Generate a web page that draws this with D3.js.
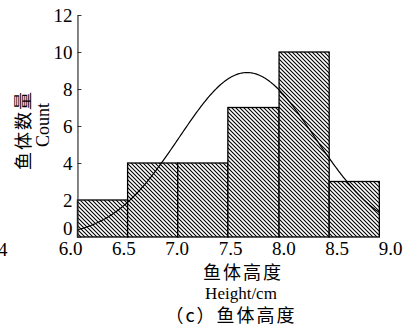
<!DOCTYPE html>
<html>
<head>
<meta charset="utf-8">
<script src="https://cdn.jsdelivr.net/npm/d3@7"></script>
<style>
    body { margin: 0; background: #fff; }
    svg { display: block; }
    text { font-family: "Liberation Serif", "Noto Sans CJK SC", serif; fill: #000; }
    .cjk { font-family: "Noto Sans CJK SC", sans-serif; }
</style>
</head>
<body>
<svg id="chart" width="411" height="330"></svg>
<script>
// histogram bins (fish height, cm) and counts
var binEdges = [6.07, 6.54, 7.01, 7.48, 7.96, 8.43, 8.90];
var counts = [2, 4, 4, 7, 10, 3];
var xTicks = [6.0, 6.5, 7.0, 7.5, 8.0, 8.5, 9.0];
var yTicks = [0, 2, 4, 6, 8, 10, 12];
// normal fit
var fitMean = 7.66;
var fitSd = 0.635;

var serif = '"Liberation Serif", serif';
var svg = d3.select('#chart');

var x = d3.scaleLinear().domain([6, 9]).range([70, 390]);
var y = d3.scaleLinear().domain([0, 12]).range([237, 15]);

// hatch pattern
var pat = svg.append('defs').append('pattern')
    .attr('id', 'hatch')
    .attr('width', 4)
    .attr('height', 4)
    .attr('patternUnits', 'userSpaceOnUse');
pat.append('rect').attr('width', 4).attr('height', 4).attr('fill', '#fff');
pat.append('path')
    .attr('d', 'M-1,-1 L5,5 M-1,3 L1,5 M3,-1 L5,1')
    .attr('stroke', '#000')
    .attr('stroke-width', 1.1);

var bins = counts.map(function(c, i) {
    return { x0: binEdges[i], x1: binEdges[i + 1], n: c };
});

svg.append('g').selectAll('rect')
        .data(bins)
    .enter().append('rect')
        .attr('x', function(d) { return x(d.x0); })
        .attr('y', function(d) { return y(d.n); })
        .attr('width', function(d) { return x(d.x1) - x(d.x0); })
        .attr('height', function(d) { return y(0) - y(d.n); })
        .attr('fill', 'url(#hatch)')
        .attr('stroke', '#000')
        .attr('stroke-width', 1.3);

// fitted normal curve
var total = d3.sum(counts);
var binWidth = (binEdges[binEdges.length - 1] - binEdges[0]) / counts.length;
var curvePts = d3.range(binEdges[0], binEdges[binEdges.length - 1] + 0.001, 0.01).map(function(v) {
    var z = (v - fitMean) / fitSd;
    return [v, total * binWidth * Math.exp(-z * z / 2) / (fitSd * Math.sqrt(2 * Math.PI))];
});
svg.append('path')
    .datum(curvePts)
    .attr('fill', 'none')
    .attr('stroke', '#000')
    .attr('stroke-width', 1.2)
    .attr('d', d3.line()
        .x(function(d) { return x(d[0]); })
        .y(function(d) { return y(d[1]); }));

// y axis
var x0 = x(binEdges[0]);
var yAxis = svg.append('g')
    .attr('transform', 'translate(' + x0 + ',0)')
    .call(d3.axisLeft(y).tickValues(yTicks).tickSizeInner(-4).tickSizeOuter(0).tickPadding(5));
yAxis.attr('font-family', null);
yAxis.select('.domain').attr('stroke', '#333').attr('stroke-width', 1.2);
yAxis.selectAll('.tick line').attr('stroke', '#333');
yAxis.selectAll('.tick text')
    .style('font-family', serif)
    .style('font-size', '19px')
    .attr('fill', '#000')
    .attr('dy', function(d) { return d === 0 ? '-0.15em' : '0.35em'; });

// x tick labels
var xAxis = svg.append('g')
    .attr('transform', 'translate(0,' + y(0) + ')')
    .call(d3.axisBottom(x).tickValues(xTicks).tickSize(0).tickPadding(5).tickFormat(d3.format('.1f')));
xAxis.attr('font-family', null);
xAxis.select('.domain').remove();
xAxis.selectAll('.tick text')
    .style('font-family', serif)
    .style('font-size', '19px')
    .attr('fill', '#000')
    .attr('dy', '0.71em');

// titles
svg.append('text').attr('class', 'cjk')
    .attr('x', 243).attr('y', 279)
    .attr('text-anchor', 'middle')
    .style('font-size', '18px').style('letter-spacing', '2px')
    .text('鱼体高度');
svg.append('text')
    .attr('x', 241).attr('y', 299)
    .attr('text-anchor', 'middle')
    .style('font-size', '17px')
    .text('Height/cm');
svg.append('text').attr('class', 'cjk')
    .attr('x', 231).attr('y', 322)
    .attr('text-anchor', 'middle')
    .style('font-size', '18px').style('letter-spacing', '2px')
    .text('（c）鱼体高度');

svg.append('text')
    .attr('transform', 'translate(30,130) rotate(-90)')
    .attr('text-anchor', 'middle')
    .style('font-family', '"Noto Sans CJK JP", sans-serif')
    .style('font-size', '18px').style('letter-spacing', '2px')
    .text('鱼体数量');
svg.append('text')
    .attr('transform', 'translate(43,125) rotate(-90)')
    .attr('text-anchor', 'middle')
    .attr('dominant-baseline', 'central')
    .style('font-size', '18px')
    .text('Count');

// stray label from neighbouring panel
svg.append('text')
    .attr('x', -2).attr('y', 256)
    .style('font-size', '19px')
    .text('4');
</script>
</body>
</html>
